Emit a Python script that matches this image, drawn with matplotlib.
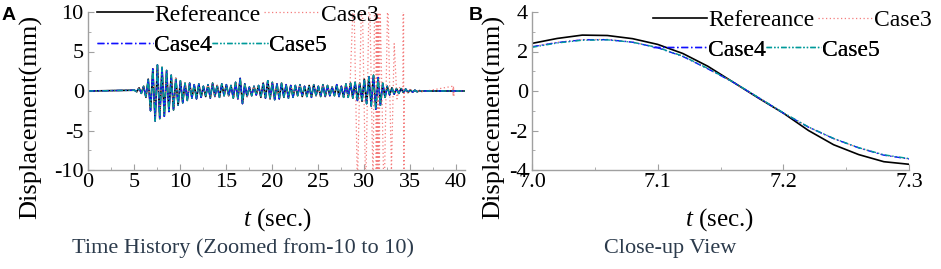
import numpy as np
import matplotlib
matplotlib.use('Agg')
import matplotlib.pyplot as plt
from matplotlib.ticker import MultipleLocator, FormatStrFormatter

plt.rcParams['font.family'] = ['Liberation Serif', 'DejaVu Serif']
plt.rcParams['mathtext.fontset'] = 'custom'
plt.rcParams['mathtext.it'] = 'Liberation Serif:italic'
plt.rcParams['mathtext.rm'] = 'Liberation Serif'
plt.rcParams['axes.unicode_minus'] = False

# ---------------- data ----------------
series_names = ['Refereance', 'Case3', 'Case4', 'Case5']

# Time history: successive oscillation extremes (mm), first at hist_t0, every hist_dt seconds
hist_t0 = 5.05
hist_dt = 0.25
hist_extremes = [
    0.1, -0.1, 0.4, -0.3,      # 5
    0.6, -0.8, 1.5, -2.5,      # 6
    2.8, -3.8, 3.3, -3.5,      # 7
    3.0, -3.2, 2.6, -2.6,      # 8
    2.0, -2.4, 1.6, -1.8,      # 9
    1.3, -1.5, 1.0, -1.2,      # 10
    1.0, -0.9, 0.8, -1.0,      # 11
    0.9, -0.8, 0.6, -0.7,      # 12
    0.8, -0.9, 1.0, -0.7,      # 13
    0.7, -0.8, 0.9, -0.6,      # 14
    0.8, -0.6, 0.7, -0.9,      # 15
    1.1, -1.0, 1.6, -1.6,      # 16
    0.9, -0.7, 0.5, -0.6,      # 17
    0.6, -0.5, 0.7, -0.8,      # 18
    1.0, -0.9, 1.3, -1.0,      # 19
    1.1, -1.1, 0.9, -1.0,      # 20
    1.0, -0.8, 0.8, -0.9,      # 21
    0.7, -0.8, 0.7, -0.6,      # 22
    0.8, -0.7, 0.6, -0.7,      # 23
    0.7, -0.8, 0.8, -0.6,      # 24
    0.6, -0.7, 0.8, -0.7,      # 25
    0.7, -0.6, 0.5, -0.6,      # 26
    0.8, -0.7, 0.6, -0.8,      # 27
    0.9, -0.8, 1.0, -0.9,      # 28
    1.1, -1.2, 1.0, -1.3,      # 29
    1.5, -1.6, 1.8, -1.9,      # 30
    2.0, -2.3, 1.7, -1.8,      # 31
    1.0, -0.8, 0.6, -0.5,      # 32
    0.4, -0.4, 0.3, -0.3,      # 33
    0.3, -0.2, 0.25, -0.2,     # 34
    0.15, -0.15, 0.1, -0.1,    # 35
    0.05, -0.05, 0.02, 0.0,    # 36
]
hist_t_start = 0.0
hist_t_end = 41.0

# Case3 instability burst (runs beyond the +/-10 display range) and late blip
case3_burst_t = [28.5, 28.9, 29.3, 29.8, 30.2, 30.6, 31.0, 31.3, 31.35, 31.4,
                 31.45, 31.5, 31.55, 31.6, 31.65, 31.75, 32.2, 32.6, 33.0, 33.3,
                 33.6, 33.9, 34.25, 34.3, 34.35, 34.4, 34.7, 35.0]
case3_burst_y = [0.9, 13, -12, 14, -13, 14, -12, 30, -30, 30,
                 -30, 30, -30, 30, -30, 12, -14, 12, -10, 6,
                 -1.0, 0.5, 0.2, 40, -40, 0.3, -0.3, 0.2]
case3_blip_t = [39.65, 39.7, 39.75, 39.8, 39.85]
case3_blip_y = [0.6, -0.6, 0.6, -0.6, 0.0]

# Close-up view 7.0 - 7.3 s
zoom_t = [7.00, 7.02, 7.04, 7.06, 7.08, 7.10, 7.12, 7.14,
          7.16, 7.18, 7.20, 7.22, 7.24, 7.26, 7.28, 7.30]
zoom_ref = [2.41, 2.66, 2.83, 2.81, 2.65, 2.36, 1.90, 1.25,
            0.45, -0.35, -1.12, -2.00, -2.72, -3.22, -3.58, -3.71]
zoom_case3 = [2.25, 2.47, 2.60, 2.61, 2.48, 2.20, 1.76, 1.13,
              0.45, -0.33, -1.11, -1.83, -2.41, -2.88, -3.25, -3.44]
zoom_case4 = [2.24, 2.45, 2.59, 2.60, 2.47, 2.19, 1.75, 1.12,
              0.45, -0.33, -1.12, -1.83, -2.41, -2.88, -3.25, -3.44]
zoom_case5 = [2.21, 2.43, 2.57, 2.59, 2.47, 2.20, 1.77, 1.14,
              0.46, -0.32, -1.10, -1.82, -2.40, -2.87, -3.23, -3.42]

# ---------------- build series ----------------
ext_t = hist_t0 + hist_dt * np.arange(len(hist_extremes))
hist_t = np.concatenate([[hist_t_start], ext_t, [hist_t_end]])
hist_y = np.concatenate([[0.0], hist_extremes, [0.0]])

keep = (hist_t < case3_burst_t[0]) | (hist_t > case3_burst_t[-1])
c3_t = np.concatenate([hist_t[keep], case3_burst_t, case3_blip_t])
c3_y = np.concatenate([hist_y[keep], case3_burst_y, case3_blip_y])
order = np.argsort(c3_t, kind='stable')
c3_t, c3_y = c3_t[order], c3_y[order]

# ---------------- styles ----------------
SERIF = 'Liberation Serif'
styles = {
    'Refereance': dict(color='black', lw=1.2, ls='-'),
    'Case3': dict(color='#f47c7c', lw=0.9, ls=(0, (1, 2))),
    'Case4': dict(color='#1010ff', lw=1.0, ls=(0, (5, 2, 1, 2))),
    'Case5': dict(color='#009a9a', lw=1.0, ls=(0, (4, 1.5, 1, 1.5, 1, 1.5))),
}
spine_col = '#a0a0a0'

fig = plt.figure(figsize=(9.41, 2.69), dpi=100)
axA = fig.add_axes([88/941, 1-170/269, 377/941, 158/269])
axB = fig.add_axes([532/941, 1-170/269, 377/941, 158/269])

def style_axes(ax):
    for s in ['top', 'right']:
        ax.spines[s].set_visible(False)
    for s in ['left', 'bottom']:
        ax.spines[s].set_color(spine_col)
        ax.spines[s].set_linewidth(1.0)
    ax.tick_params(which='both', direction='in', color=spine_col,
                   labelsize=16, top=False, right=False,
                   labelfontfamily=SERIF)
    ax.tick_params(which='major', length=4)
    ax.tick_params(which='minor', length=2.5)
    ax.tick_params(axis='x', pad=2)
    ax.tick_params(axis='y', pad=3)

# Panel A
hA = {}
hA['Refereance'], = axA.plot(hist_t, hist_y, **styles['Refereance'])
hA['Case3'], = axA.plot(c3_t, c3_y, **styles['Case3'])
hA['Case4'], = axA.plot(hist_t, hist_y, **styles['Case4'])
hA['Case5'], = axA.plot(hist_t, hist_y, **styles['Case5'])
axA.set_xlim(0, 41)
axA.set_ylim(-10, 10)
axA.xaxis.set_major_locator(MultipleLocator(5))
axA.xaxis.set_minor_locator(MultipleLocator(2.5))
axA.yaxis.set_major_locator(MultipleLocator(5))
axA.yaxis.set_minor_locator(MultipleLocator(2.5))
style_axes(axA)

# Panel B
hB = {}
hB['Refereance'], = axB.plot(zoom_t, zoom_ref, **styles['Refereance'])
hB['Case3'], = axB.plot(zoom_t, zoom_case3, **styles['Case3'])
hB['Case4'], = axB.plot(zoom_t, zoom_case4, **styles['Case4'])
hB['Case5'], = axB.plot(zoom_t, zoom_case5, **styles['Case5'])
axB.set_xlim(7.0, 7.3)
axB.set_ylim(-4, 4)
axB.xaxis.set_major_locator(MultipleLocator(0.1))
axB.xaxis.set_minor_locator(MultipleLocator(0.05))
axB.yaxis.set_major_locator(MultipleLocator(2))
axB.yaxis.set_minor_locator(MultipleLocator(1))
axB.xaxis.set_major_formatter(FormatStrFormatter('%.1f'))
style_axes(axB)

def two_row_legend(ax, h, x0, y1, y2, hl, cs1):
    kw = dict(frameon=False, handlelength=hl, handletextpad=0.05,
              borderpad=0, borderaxespad=0, ncol=2,
              prop={'family': SERIF, 'size': 17},
              loc='center left', bbox_transform=fig.transFigure)
    l1 = ax.legend([h['Refereance'], h['Case3']], ['Refereance', 'Case3'],
                   bbox_to_anchor=(x0, y1), columnspacing=cs1, **kw)
    ax.add_artist(l1)
    l2 = ax.legend([h['Case4'], h['Case5']], ['Case4', 'Case5'],
                   bbox_to_anchor=(x0, y2), columnspacing=0.0, **kw)
    ax.add_artist(l2)

two_row_legend(axA, hA, 97/941, 1-15/269, 1-45/269, 2.37, 0.15)
two_row_legend(axB, hB, 653/941, 1-20/269, 1-50/269, 2.3, 0.15)

# Axis labels
for xc in [31/941, 494/941]:
    fig.text(xc, 1-117/269, 'Displacement(mm)', rotation=90, ha='center',
             va='center', fontsize=19, family=SERIF)
fig.text(277/941, 1-220/269, r'$t$ (sec.)', ha='center', va='center',
         fontsize=18, family=SERIF)
fig.text(719/941, 1-220/269, r'$t$ (sec.)', ha='center', va='center',
         fontsize=18, family=SERIF)

# Captions
cap_col = '#2c3b4c'
fig.text(243/941, 1-248/269, 'Time History (Zoomed from-10 to 10)', ha='center',
         va='center', fontsize=16, color=cap_col, family=SERIF)
fig.text(670/941, 1-248/269, 'Close-up View', ha='center', va='center',
         fontsize=16, color=cap_col, family=SERIF)

# Panel letters
fig.text(2/941, 1-7/269, 'A', ha='left', va='top', fontsize=14,
         fontweight='bold', family='Liberation Sans')
fig.text(469/941, 1-7/269, 'B', ha='left', va='top', fontsize=14,
         fontweight='bold', family='Liberation Sans')

fig.savefig('out.png', dpi=100)
